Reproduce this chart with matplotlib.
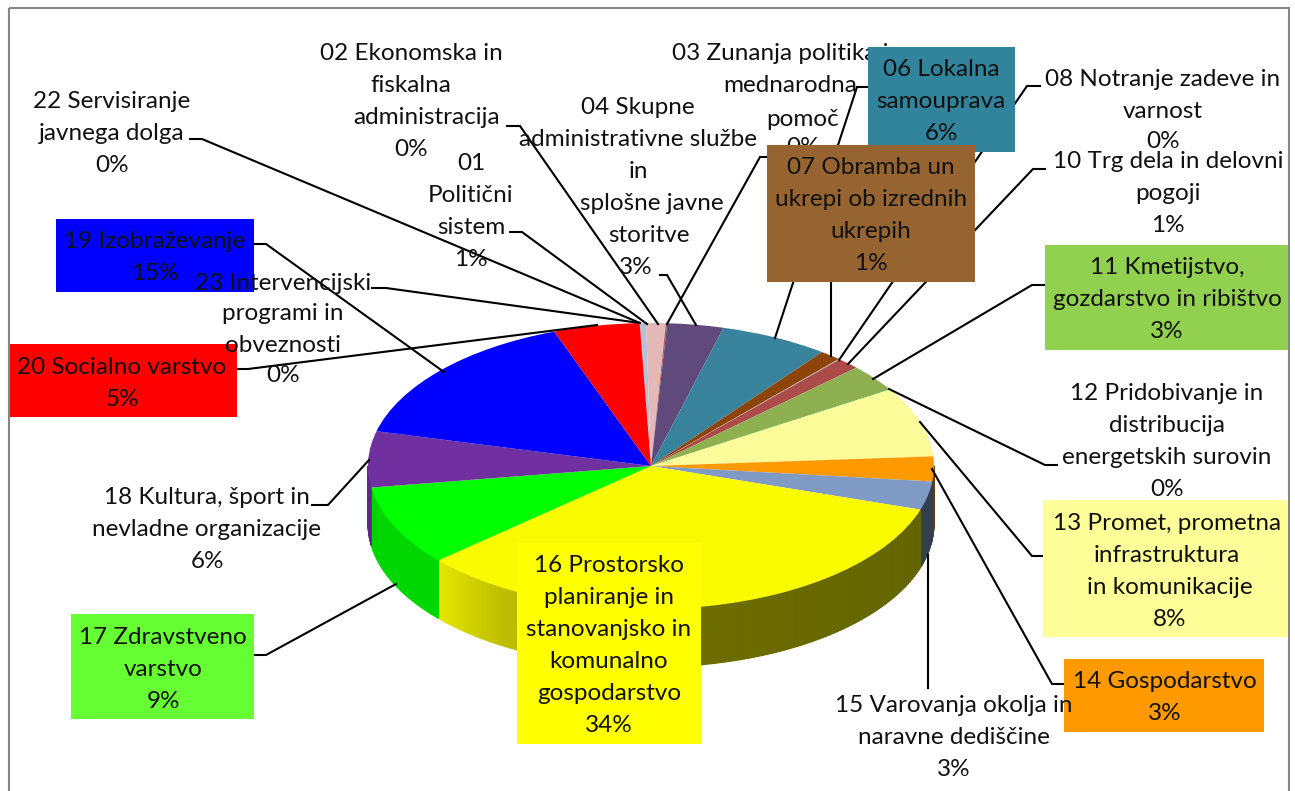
import numpy as np
import matplotlib
matplotlib.use('Agg')
import matplotlib.pyplot as plt
from matplotlib.patches import Polygon, Rectangle

W, H = 1295, 791
plt.rcParams['font.family'] = ['Lato', 'DejaVu Sans']

# ---- data (clockwise from the first sliver at the top of the pie)
codes = ['22', '23', '01', '02', '03', '04', '06', '07', '08', '10', '11', '12',
         '13', '14', '15', '16', '17', '18', '19', '20']
values = [0.03, 0.33, 1.08, 0.03, 0.08, 3.2, 6.2, 1.2, 0.08, 1.3, 3.0, 0.07,
          7.9, 2.8, 3.2, 33.5, 9.05, 6.3, 15.5, 4.9]
top_colors = ['#9a9a9a', '#b3c1db', '#e4b8b7', '#c8b0b0', '#b5524f', '#604a7b',
              '#3a839c', '#8e4408', '#a0a0a0', '#ad4b4b', '#8fb050', '#1f9a1f',
              '#fbfb99', '#ff9900', '#7f9ac5', '#fbfb00', '#00ff00', '#7030a0',
              '#0000ff', '#ff0000']

# ---- geometry of the tilted pie, in pixels
CX, CY, RX, RY, DEPTH = 651, 466, 283, 143, 58
START = -2.3

# ---- label boxes: x0, y0, x1, y1, colour
boxes = {
    '19': (56, 219, 254, 292, '#0000ff'),
    '20': (10, 344, 237, 417, '#ff0000'),
    '06': (868, 47, 1015, 152, '#31849b'),
    '07': (767, 145, 975, 282, '#966430'),
    '11': (1045, 245, 1288, 350, '#92d050'),
    '13': (1043, 500, 1288, 637, '#ffff99'),
    '14': (1064, 659, 1264, 732, '#ff9900'),
    '16': (517, 543, 701, 744, '#ffff00'),
    '17': (71, 614, 254, 719, '#66ff33'),
}
# ---- labels: code, centre x, first-line y, line step, lines (drawing order)
labels = [
    ('22', 112, 101, 32, ['22 Servisiranje', 'javnega dolga', '0%']),
    ('02', 411, 54, 32, ['02 Ekonomska in', 'fiskalna']),
    ('02', 427, 118, 0, ['administracija']),
    ('02', 411, 150, 0, ['0%']),
    ('01', 471, 164, 32, ['01', 'Politični', 'sistem', '1%']),
    ('04', 638, 108, 32, ['04 Skupne', 'administrativne službe', 'in']),
    ('04', 652, 204, 0, ['splošne javne']),
    ('04', 649, 236, 0, ['storitve']),
    ('04', 636, 267, 0, ['3%']),
    ('03', 787, 54, 0, ['03 Zunanja politika in']),
    ('03', 790, 86, 0, ['mednarodna']),
    ('03', 803, 119, 29, ['pomoč', '0%']),
    ('06', 941, 70, 32, ['06 Lokalna', 'samouprava', '6%']),
    ('07', 871, 168, 32, ['07 Obramba un', 'ukrepi ob izrednih', 'ukrepih', '1%']),
    ('08', 1163, 80, 31, ['08 Notranje zadeve in', 'varnost', '0%']),
    ('10', 1168, 162, 32, ['10 Trg dela in delovni', 'pogoji', '1%']),
    ('11', 1167, 268, 32, ['11 Kmetijstvo,', 'gozdarstvo in ribištvo', '3%']),
    ('12', 1167, 394, 32, ['12 Pridobivanje in', 'distribucija', 'energetskih surovin', '0%']),
    ('13', 1167, 523, 32, ['13 Promet, prometna', 'infrastruktura']),
    ('13', 1170, 587, 32, ['in komunikacije', '8%']),
    ('14', 1165, 682, 32, ['14 Gospodarstvo', '3%']),
    ('15', 954, 706, 32, ['15 Varovanja okolja in', 'naravne dediščine', '3%']),
    ('16', 609, 566, 32, ['16 Prostorsko', 'planiranje in', 'stanovanjsko in', 'komunalno', 'gospodarstvo', '34%']),
    ('17', 163, 637, 32, ['17 Zdravstveno', 'varstvo', '9%']),
    ('18', 207, 498, 32, ['18 Kultura, šport in', 'nevladne organizacije', '6%']),
    ('19', 155, 242, 32, ['19 Izobraževanje', '15%']),
    ('20', 122, 367, 32, ['20 Socialno varstvo', '5%']),
    ('23', 283, 283, 31, ['23 Intervencijski', 'programi in', 'obveznosti', '0%']),
]
# ---- leader lines, pixel polylines
leaders = [
    [(190, 139), (202, 139), (640, 323)],
    [(372, 288), (386, 288), (640, 323)],
    [(510, 232), (522, 232), (647, 324)],
    [(507, 126), (520, 126), (658, 324)],
    [(767, 157), (760, 157), (667, 324)],
    [(660, 275), (667, 275), (696, 325)],
    [(868, 87), (857, 87), (775, 338)],
    [(831, 282), (831, 356)],
    [(1040, 86), (1027, 86), (839, 360)],
    [(1045, 169), (1033, 169), (848, 364)],
    [(1045, 285), (1032, 285), (873, 379)],
    [(1057, 465), (1045, 465), (889, 389)],
    [(1043, 556), (1032, 556), (920, 422)],
    [(1064, 684), (1052, 684), (932, 469)],
    [(927.5, 688), (927.5, 555)],
    [(254, 655), (266, 655), (396, 584)],
    [(312, 505), (328, 505), (369, 460)],
    [(254, 244), (266, 244), (444, 372)],
    [(237, 369), (248, 369), (597, 325)],
]
FONT = 17.5
TEXT = '#111111'

fig = plt.figure(figsize=(W / 100, H / 100), dpi=100, facecolor='white')

# pie axes: unit circle mapped to the ellipse, the whole figure in view
ax = fig.add_axes([0, 0, 1, 1])
ax.pie(values, colors=top_colors, startangle=90 - START, counterclock=False,
       radius=1, wedgeprops={'linewidth': 0, 'zorder': 3})
ax.set_aspect('auto')
ax.set_xlim((0 - CX) / RX, (W - CX) / RX)
ax.set_ylim((CY - H) / RY, CY / RY)
ax.axis('off')

# side wall from the same values
def wall_shade(x_px):
    return np.interp(x_px, [368, 437, 438, 500, 570, 660, 930],
                     [0.84, 0.84, 0.92, 0.76, 0.70, 0.44, 0.40])

vals = np.array(values, dtype=float)
edges = START + np.concatenate([[0], np.cumsum(vals)]) / vals.sum() * 360
d = DEPTH / RY
for a0, a1, col in zip(edges[:-1], edges[1:], top_colors):
    lo, hi = max(a0, 90), min(a1, 270)
    if hi <= lo:
        continue
    base = np.array(matplotlib.colors.to_rgb(col))
    steps = np.arange(lo, hi, 1.0).tolist() + [hi]
    for t0, t1 in zip(steps[:-1], steps[1:]):
        r0, r1 = np.radians(t0), np.radians(t1)
        xs = np.sin([r0, r1, r1, r0])
        ys = np.cos([r0, r1, r1, r0]) - np.array([0, 0, d, d])
        c = base * wall_shade(CX + RX * np.sin((r0 + r1) / 2))
        ax.add_patch(Polygon(np.column_stack([xs, ys]), closed=True, facecolor=c,
                             edgecolor=c, linewidth=0.8, zorder=2))

# overlay axes in pixel coordinates for frame, lines and labels
ov = fig.add_axes([0, 0, 1, 1], facecolor='none')
ov.set_xlim(0, W)
ov.set_ylim(H, 0)
ov.axis('off')
ov.add_patch(Rectangle((8.5, 8), 1280.5, 800, fill=False, edgecolor='#868686', linewidth=1.5, zorder=1))
for pts in leaders:
    ov.plot(*zip(*pts), color='black', lw=1.5, solid_joinstyle='miter', zorder=2)

z = 3
for code, cx, y0, step, lines in labels:
    if code in boxes and lines[0].startswith(code):
        x0, yb, x1, y1, col = boxes[code]
        ov.add_patch(Rectangle((x0, yb), x1 - x0, y1 - yb, facecolor=col, edgecolor='none', zorder=z))
    z += 1
    for i, s in enumerate(lines):
        ov.text(cx, y0 + i * step, s, ha='center', va='center', fontsize=FONT, color=TEXT, zorder=z)
    z += 1

fig.savefig('out.png', dpi=100)
